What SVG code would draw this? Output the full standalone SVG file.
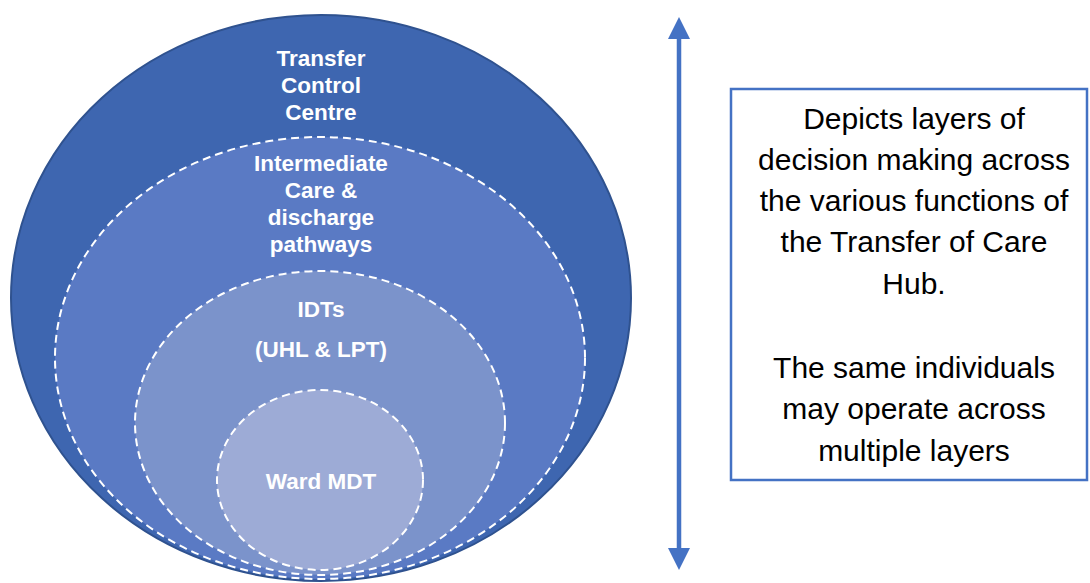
<svg xmlns="http://www.w3.org/2000/svg" width="1090" height="583" viewBox="0 0 1090 583">
<defs>
<style>
.lbl{font-family:"Liberation Sans",Arial,sans-serif;font-weight:bold;font-size:22.5px;fill:#ffffff;text-anchor:middle}
.dash{stroke:#ffffff;stroke-width:2;stroke-dasharray:8 5}
.note{font-family:"Liberation Sans",Arial,sans-serif;font-size:30px;fill:#000000;text-anchor:middle}
</style>
<marker id="ah" markerUnits="userSpaceOnUse" markerWidth="24" markerHeight="24" viewBox="0 0 24 24" refX="0" refY="12" orient="auto-start-reverse">
<path d="M0,1 L22,12 L0,23 Z" fill="#4472C4"/>
</marker>
</defs>
<rect width="1090" height="583" fill="#ffffff"/>
<g id="transfer-control-centre">
<ellipse cx="321" cy="298" rx="310" ry="283" fill="#3E66B0" stroke="#2F528F" stroke-width="2"/>
<text class="lbl" x="321" y="66">Transfer</text>
<text class="lbl" x="321" y="93">Control</text>
<text class="lbl" x="321" y="120">Centre</text>
</g>
<g id="intermediate-care">
<ellipse cx="320" cy="358" rx="265" ry="221" fill="#5A7AC4" class="dash"/>
<text class="lbl" x="321" y="171">Intermediate</text>
<text class="lbl" x="321" y="198">Care &amp;</text>
<text class="lbl" x="321" y="225">discharge</text>
<text class="lbl" x="321" y="252">pathways</text>
</g>
<g id="idts">
<ellipse cx="320" cy="423" rx="185" ry="152" fill="#7B93CB" class="dash"/>
<text class="lbl" x="321" y="317">IDTs</text>
<text class="lbl" x="321" y="357">(UHL &amp; LPT)</text>
</g>
<g id="ward-mdt">
<ellipse cx="320" cy="480" rx="103" ry="90" fill="#9DABD6" class="dash"/>
<text class="lbl" x="321" y="489">Ward MDT</text>
</g>
<g id="connectors">
<line x1="679" y1="39" x2="679" y2="548" stroke="#4472C4" stroke-width="4.5" marker-start="url(#ah)" marker-end="url(#ah)"/>
</g>
<g id="note">
<rect x="731" y="89" width="356" height="391" fill="#ffffff" stroke="#4472C4" stroke-width="2.5"/>
<text class="note" x="914" y="129">Depicts layers of</text>
<text class="note" x="914" y="170">decision making across</text>
<text class="note" x="914" y="211">the various functions of</text>
<text class="note" x="914" y="252">the Transfer of Care</text>
<text class="note" x="914" y="294">Hub.</text>
<text class="note" x="914" y="378">The same individuals</text>
<text class="note" x="914" y="419">may operate across</text>
<text class="note" x="914" y="461">multiple layers</text>
</g>
</svg>
